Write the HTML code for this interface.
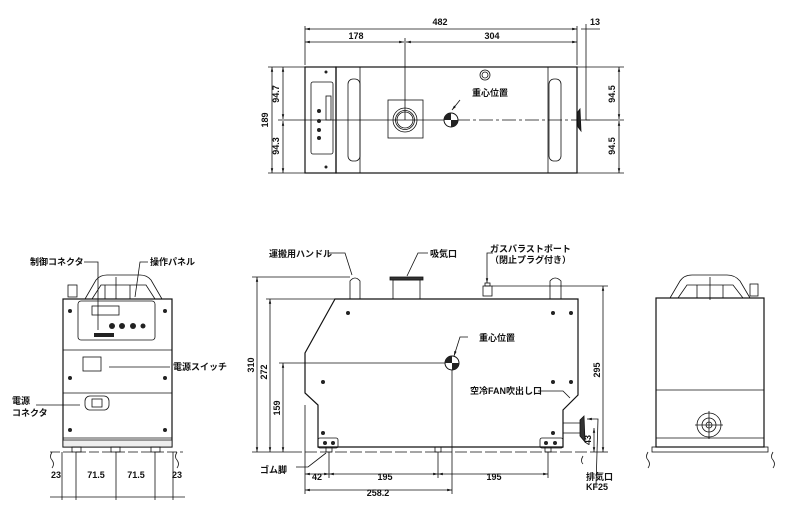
<!DOCTYPE html>
<html><head><meta charset="utf-8"><style>
html,body{margin:0;padding:0;background:#fff;width:800px;height:520px;overflow:hidden}
svg{display:block}
text{font-family:"Liberation Sans","Noto Sans CJK JP",sans-serif;font-size:9px;fill:#111;font-weight:bold}
</style></head><body>
<svg width="800" height="520" viewBox="0 0 800 520" xmlns="http://www.w3.org/2000/svg">
<defs>
<marker id="a" markerWidth="6" markerHeight="6" refX="6" refY="3" orient="auto-start-reverse"><path d="M0,1.5L6,3L0,4.5z" fill="#111"/></marker>
</defs>
<g fill="none" stroke="#111" stroke-width="0.8">
<!-- TOP VIEW -->
<rect x="305" y="67" width="31" height="106" stroke-width="1.2"/>
<rect x="336" y="67" width="241" height="106" stroke-width="1.2"/>
<line x1="360" y1="67" x2="360" y2="173"/><line x1="548" y1="67" x2="548" y2="173"/>
<rect x="348" y="79" width="12" height="82" rx="5"/>
<rect x="549" y="79" width="12" height="82" rx="5"/>
<rect x="311" y="82" width="22" height="72" rx="2"/>
<rect x="326" y="96" width="5" height="24"/>
<rect x="388" y="100" width="35" height="38"/>
<circle cx="405" cy="120" r="12"/><circle cx="405" cy="120" r="9.5"/><circle cx="405" cy="120" r="8"/>
<circle cx="485" cy="75" r="5"/><circle cx="485" cy="75" r="3"/>
<path d="M577,113 L580,109 L581,131 L578,127 Z" fill="#222"/>
<line x1="581" y1="120" x2="590" y2="120"/>
<line x1="305" y1="29" x2="577" y2="29" marker-start="url(#a)" marker-end="url(#a)"/>
<line x1="305" y1="42" x2="404" y2="42" marker-start="url(#a)" marker-end="url(#a)"/>
<line x1="406" y1="42" x2="577" y2="42" marker-start="url(#a)" marker-end="url(#a)"/>
<line x1="581" y1="29" x2="600" y2="29"/>
<line x1="305" y1="26" x2="305" y2="65"/><line x1="577" y1="26" x2="577" y2="65"/><line x1="586" y1="24" x2="586" y2="120"/>
<line x1="405" y1="38" x2="405" y2="120"/>
<line x1="268" y1="67" x2="305" y2="67"/><line x1="268" y1="173" x2="305" y2="173"/>
<line x1="278" y1="120" x2="450" y2="120"/>
<line x1="456" y1="120" x2="577" y2="120" stroke-dasharray="14 3 3 3"/>
<line x1="577" y1="67" x2="624" y2="67"/><line x1="577" y1="173" x2="624" y2="173"/><line x1="586" y1="120" x2="624" y2="120"/>
<line x1="272" y1="67" x2="272" y2="173" marker-start="url(#a)" marker-end="url(#a)"/>
<line x1="283" y1="67" x2="283" y2="119" marker-start="url(#a)" marker-end="url(#a)"/>
<line x1="283" y1="121" x2="283" y2="173" marker-start="url(#a)" marker-end="url(#a)"/>
<line x1="619" y1="67" x2="619" y2="119" marker-start="url(#a)" marker-end="url(#a)"/>
<line x1="619" y1="121" x2="619" y2="173" marker-start="url(#a)" marker-end="url(#a)"/>
<path d="M460,100 L452,110" marker-end="url(#a)"/>

<!-- FRONT VIEW -->
<path d="M85,299 L96,280 Q100,275 107,275 L140,275 Q147,275 151,280 L162,299"/>
<path d="M92,299 L101,285 L146,285 L155,299"/>
<line x1="105" y1="285" x2="105" y2="299"/><line x1="116" y1="277" x2="116" y2="299"/><line x1="130" y1="285" x2="130" y2="299"/>
<rect x="68" y="285" width="9" height="12"/>
<rect x="63" y="299" width="109" height="148" stroke-width="1.2"/>
<line x1="63" y1="350" x2="172" y2="350"/><line x1="63" y1="393" x2="172" y2="393"/>
<rect x="78" y="301" width="77" height="39" rx="3"/>
<rect x="92" y="306" width="27" height="9"/>
<rect x="83" y="357" width="18" height="14"/>
<rect x="85" y="396" width="24" height="14" rx="5"/><rect x="92" y="399" width="10" height="8"/>
<line x1="63" y1="438" x2="172" y2="438"/>
<rect x="63" y="440" width="109" height="7" fill="#eee"/>
<line x1="50" y1="452" x2="183" y2="452" stroke-dasharray="10 3"/>
<rect x="72" y="447" width="9" height="5"/><rect x="111" y="447" width="9" height="5"/><rect x="151" y="447" width="9" height="5"/>
<line x1="62" y1="452" x2="62" y2="500"/><line x1="76" y1="452" x2="76" y2="500"/><line x1="116" y1="452" x2="116" y2="500"/><line x1="155" y1="452" x2="155" y2="500"/><line x1="173" y1="452" x2="173" y2="500"/>
<line x1="50" y1="497" x2="185" y2="497"/>
<path d="M52,452 q-3,5 0,8 q3,4 0,8"/><path d="M177,452 q-3,5 0,8 q3,4 0,8"/>
<path d="M84,262 L98,262 L98,330"/><path d="M148,262 L140,262 L135,297"/>
<path d="M170,367 L109,367"/><path d="M36,405 L80,405"/>

<!-- SIDE VIEW -->
<path d="M335,299 L305,353 L305,393 L318,405 L318,447 L563,447 L563,410 L578,395 L578,299 Z" stroke-width="1.2"/>
<line x1="320" y1="299" x2="578" y2="299"/>
<path d="M350,299 L350,281 Q355,275 360,281 L360,299"/>
<path d="M550,299 L550,281 Q555,275 561,281 L561,299"/>
<rect x="393" y="280" width="27" height="19"/><rect x="390" y="277" width="33" height="3" fill="#333"/>
<rect x="483" y="286" width="9" height="10"/><rect x="485" y="283" width="5" height="3"/>
<rect x="318" y="438" width="20" height="10" rx="2"/><rect x="540" y="438" width="23" height="10" rx="2"/>
<line x1="563" y1="423" x2="580" y2="423"/><line x1="563" y1="433" x2="580" y2="433"/>
<path d="M580,420 L584,416 L585,442 L580,436 Z" fill="#333"/>
<line x1="290" y1="452" x2="600" y2="452" stroke-dasharray="12 3"/>
<rect x="326" y="447" width="6" height="5"/><rect x="435" y="447" width="6" height="5"/><rect x="545" y="447" width="6" height="5"/>
<line x1="252" y1="277" x2="350" y2="277"/><line x1="266" y1="299" x2="320" y2="299"/><line x1="279" y1="363" x2="448" y2="363"/>
<line x1="252" y1="452" x2="290" y2="452"/>
<line x1="257" y1="277" x2="257" y2="452" marker-start="url(#a)" marker-end="url(#a)"/>
<line x1="270" y1="299" x2="270" y2="452" marker-start="url(#a)" marker-end="url(#a)"/>
<line x1="283" y1="363" x2="283" y2="452" marker-start="url(#a)" marker-end="url(#a)"/>
<line x1="492" y1="286" x2="608" y2="286"/><line x1="600" y1="452" x2="608" y2="452"/>
<line x1="603" y1="286" x2="603" y2="452" marker-start="url(#a)" marker-end="url(#a)"/>
<line x1="594" y1="428" x2="594" y2="452" marker-start="url(#a)" marker-end="url(#a)"/>
<line x1="452" y1="368" x2="452" y2="494"/>
<line x1="305" y1="405" x2="305" y2="494"/><line x1="329" y1="452" x2="329" y2="478"/><line x1="438" y1="452" x2="438" y2="478"/><line x1="548" y1="452" x2="548" y2="478"/>
<line x1="305" y1="474" x2="329" y2="474" marker-start="url(#a)" marker-end="url(#a)"/>
<line x1="329" y1="474" x2="438" y2="474" marker-start="url(#a)" marker-end="url(#a)"/>
<line x1="438" y1="474" x2="548" y2="474" marker-start="url(#a)" marker-end="url(#a)"/>
<line x1="305" y1="490" x2="452" y2="490" marker-start="url(#a)" marker-end="url(#a)"/>
<path d="M328,253 L345,253 L352,275"/><path d="M428,253 L418,253 L407,276" /><path d="M493,253 L487,253 L487,283" marker-end="url(#a)"/>
<path d="M468,337 L460,337 L454,356" marker-end="url(#a)"/>
<path d="M538,391 L563,391 L570,398"/>
<path d="M596,486 L598,419 L587,419" marker-end="url(#a)"/>
<path d="M296,467 L308,467 L326,453"/>
<path d="M583,456 q-3,5 0,8"/>

<!-- RIGHT VIEW -->
<path d="M670,298 L680,281 Q684,275 692,275 L727,275 Q735,275 740,281 L750,298"/>
<path d="M678,298 L687,285 L733,285 L743,298"/>
<line x1="697" y1="285" x2="697" y2="298"/><line x1="710" y1="277" x2="710" y2="300"/><line x1="723" y1="285" x2="723" y2="298"/>
<rect x="750" y="284" width="8" height="12"/>
<rect x="656" y="298" width="108" height="149" stroke-width="1.2"/>
<line x1="656" y1="390" x2="764" y2="390"/>
<line x1="656" y1="438" x2="764" y2="438"/>
<circle cx="709" cy="425" r="12"/><circle cx="709" cy="425" r="7"/><circle cx="709" cy="425" r="3"/>
<line x1="695" y1="425" x2="723" y2="425"/><line x1="709" y1="411" x2="709" y2="439"/>
<rect x="652" y="447" width="116" height="5"/>
<path d="M648,452 q-3,5 0,8 q3,4 0,8"/><path d="M773,452 q-3,5 0,8 q3,4 0,8"/>
</g>
<g fill="#222">
<circle cx="451" cy="120" r="7" fill="#fff" stroke="#111"/><path d="M451,120 L451,113 A7,7 0 0 0 444,120 Z M451,120 L451,127 A7,7 0 0 0 458,120 Z"/>
<circle cx="452" cy="363" r="7" fill="#fff" stroke="#111"/><path d="M452,363 L452,356 A7,7 0 0 0 445,363 Z M452,363 L452,370 A7,7 0 0 0 459,363 Z"/>
<circle cx="319" cy="111" r="2"/><circle cx="319" cy="121" r="2"/><circle cx="319" cy="130" r="2"/><circle cx="319" cy="138" r="2"/>
<circle cx="326" cy="72" r="1.5"/><circle cx="326" cy="167" r="1.5"/>
<circle cx="70" cy="311" r="2"/><circle cx="165" cy="311" r="2"/><circle cx="70" cy="378" r="2"/><circle cx="165" cy="378" r="2"/><circle cx="70" cy="430" r="2"/><circle cx="165" cy="430" r="2"/>
<circle cx="112" cy="326" r="3"/><circle cx="122" cy="326" r="3"/><circle cx="133" cy="326" r="3"/><circle cx="143" cy="326" r="2.5"/>
<rect x="94" y="333" width="20" height="4"/>
<circle cx="348" cy="313" r="2"/><circle cx="553" cy="313" r="2"/><circle cx="571" cy="313" r="2"/>
<circle cx="323" cy="382" r="2"/><circle cx="553" cy="382" r="2"/><circle cx="571" cy="382" r="2"/>
<circle cx="323" cy="433" r="2"/><circle cx="553" cy="433" r="2"/>
<circle cx="325" cy="443" r="2"/><circle cx="333" cy="443" r="2"/><circle cx="546" cy="443" r="2"/><circle cx="555" cy="443" r="2"/>
</g>
<text x="440" y="25" text-anchor="middle">482</text>
<text x="590" y="25">13</text>
<text x="356" y="39" text-anchor="middle">178</text>
<text x="492" y="39" text-anchor="middle">304</text>
<text x="472" y="96">重心位置</text>
<text transform="translate(268,120) rotate(-90)" text-anchor="middle">189</text>
<text transform="translate(279,94) rotate(-90)" text-anchor="middle">94.7</text>
<text transform="translate(279,146) rotate(-90)" text-anchor="middle">94.3</text>
<text transform="translate(615,94) rotate(-90)" text-anchor="middle">94.5</text>
<text transform="translate(615,146) rotate(-90)" text-anchor="middle">94.5</text>
<text x="30" y="265">制御コネクタ</text>
<text x="150" y="265">操作パネル</text>
<text x="173" y="370">電源スイッチ</text>
<text x="12" y="404">電源</text>
<text x="12" y="416">コネクタ</text>
<text x="51" y="478">23</text><text x="96" y="478" text-anchor="middle">71.5</text><text x="136" y="478" text-anchor="middle">71.5</text><text x="172" y="478">23</text>
<text x="269" y="257">運搬用ハンドル</text>
<text x="430" y="257">吸気口</text>
<text x="490" y="252">ガスバラストポート</text>
<text x="490" y="263">（閉止プラグ付き）</text>
<text x="479" y="341">重心位置</text>
<text x="470" y="394">空冷FAN吹出し口</text>
<text x="260" y="473">ゴム脚</text>
<text x="317" y="480" text-anchor="middle">42</text><text x="385" y="480" text-anchor="middle">195</text><text x="494" y="480" text-anchor="middle">195</text>
<text x="378" y="496" text-anchor="middle">258.2</text>
<text x="586" y="480">排気口</text><text x="586" y="490">KF25</text>
<text transform="translate(254,365) rotate(-90)" text-anchor="middle">310</text>
<text transform="translate(267,372) rotate(-90)" text-anchor="middle">272</text>
<text transform="translate(280,408) rotate(-90)" text-anchor="middle">159</text>
<text transform="translate(600,370) rotate(-90)" text-anchor="middle">295</text>
<text transform="translate(591,440) rotate(-90)" text-anchor="middle">43</text>
</svg>
</body></html>
